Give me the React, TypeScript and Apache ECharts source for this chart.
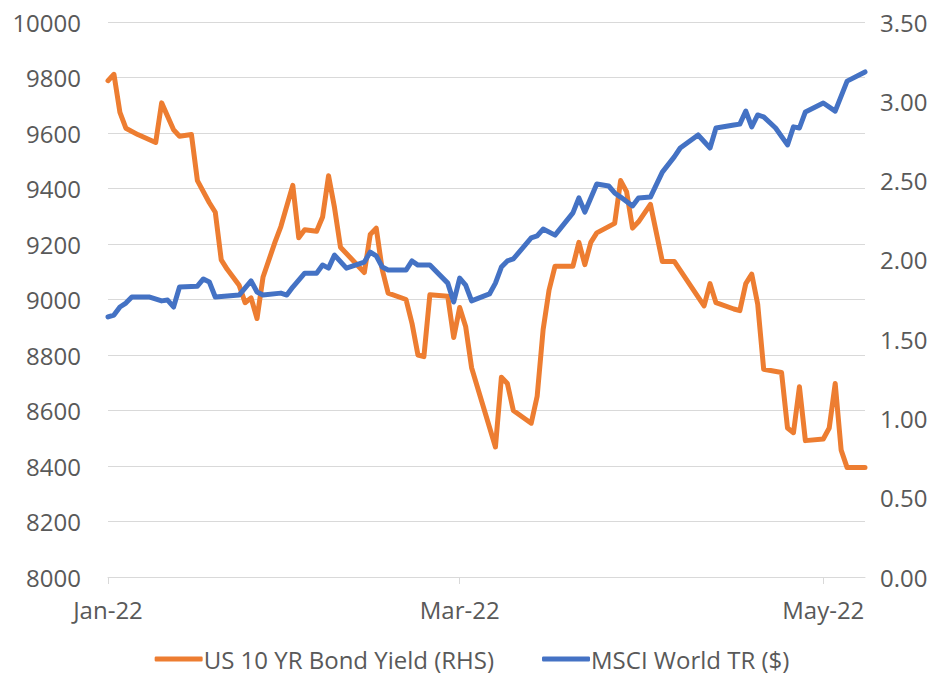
import React, { useEffect, useRef } from "react";
import * as echarts from "echarts";

// Day offsets counted from 3 Jan 2022 (first date on the axis)
const yieldDays = [0,1,2,3,5,8,9,11,12,14,15,17,18,19,20,21,22,23,24,25,26,28,29,31,32,33,35,36,37,38,39,43,44,45,46,47,50,51,52,53,54,57,58,59,60,61,65,66,67,68,71,72,73,74,75,78,79,80,81,82,85,86,87,88,89,91,93,95,100,101,102,105,106,107,108,109,110,113,114,115,116,117,120,121,122,123,124,127];
const yieldValues = [3.13,3.17,2.93,2.83,2.79,2.74,2.99,2.82,2.78,2.79,2.50,2.36,2.30,2.00,1.94,1.89,1.84,1.73,1.76,1.63,1.89,2.11,2.21,2.47,2.14,2.19,2.18,2.27,2.53,2.33,2.08,1.92,2.16,2.20,1.94,1.79,1.75,1.60,1.40,1.39,1.78,1.77,1.51,1.70,1.58,1.32,0.82,1.26,1.22,1.05,0.97,1.14,1.56,1.81,1.96,1.96,2.11,1.97,2.11,2.17,2.23,2.50,2.43,2.20,2.24,2.35,1.99,1.99,1.71,1.85,1.73,1.69,1.68,1.85,1.91,1.72,1.31,1.29,0.94,0.91,1.20,0.86,0.87,0.94,1.22,0.80,0.69,0.69];

const msciDays = [0,1,2,3,4,7,9,10,11,12,15,16,17,18,22,24,25,26,29,30,31,33,35,36,37,38,40,43,44,45,46,47,50,51,52,54,57,58,59,60,61,64,65,66,67,68,71,72,73,75,78,79,80,82,84,85,86,88,89,91,93,95,96,99,101,102,105,106,107,108,109,110,112,114,115,116,117,120,122,124,127];
const msciValues = [8937,8944,8973,8987,9009,9009,8995,8998,8973,9045,9048,9074,9063,9009,9016,9067,9027,9016,9023,9016,9045,9095,9095,9124,9113,9160,9113,9135,9171,9157,9117,9106,9106,9139,9124,9124,9059,8991,9077,9052,8995,9020,9059,9117,9139,9146,9222,9229,9254,9232,9312,9366,9315,9416,9409,9384,9369,9337,9366,9369,9459,9514,9546,9593,9546,9618,9629,9632,9679,9622,9665,9658,9618,9557,9622,9618,9676,9708,9679,9787,9820];

const xTickDays = [0, 59, 120];
const xTickLabels = ["Jan-22", "Mar-22", "May-22"];

const seriesNames = ["US 10 YR Bond Yield (RHS)", "MSCI World TR ($)"];

const FONT = "'Open Sans', 'Noto Sans', sans-serif";
const TEXT = "#595959";

export default function App() {
  const ref = useRef<HTMLDivElement>(null);
  useEffect(() => {
    if (!ref.current) return;
    const chart = echarts.init(ref.current, null, { renderer: "svg" });
    const textStyle = { fontFamily: FONT, fontSize: 24, color: TEXT };
    chart.setOption({
      animation: false,
      backgroundColor: "#ffffff",
      grid: { left: 108, right: 79, top: 22, bottom: 101 },
      legend: {
        data: seriesNames,
        bottom: 2,
        left: "center",
        icon: "roundRect",
        itemWidth: 48,
        itemHeight: 5,
        itemGap: 48,
        textStyle: { ...textStyle, padding: [0, 0, 0, -4] },
      },
      xAxis: {
        type: "value",
        min: 0,
        max: 127,
        splitLine: { show: false },
        axisLine: { show: true, lineStyle: { color: "#d9d9d9", width: 1 } },
        axisTick: {
          show: true,
          customValues: xTickDays,
          length: 7,
          lineStyle: { color: "#d9d9d9" },
        },
        axisLabel: {
          ...textStyle,
          margin: 20,
          customValues: xTickDays,
          formatter: (v: number) => {
            const i = xTickDays.indexOf(Math.round(v));
            return i >= 0 ? xTickLabels[i] : "";
          },
        },
      },
      yAxis: [
        {
          type: "value",
          min: 8000,
          max: 10000,
          interval: 200,
          axisLine: { show: false },
          axisTick: { show: false },
          splitLine: { lineStyle: { color: "#d9d9d9", width: 1 } },
          axisLabel: { ...textStyle, margin: 27, formatter: (v: number) => String(v) },
        },
        {
          type: "value",
          min: 0,
          max: 3.5,
          interval: 0.5,
          position: "right",
          axisLine: { show: false },
          axisTick: { show: false },
          splitLine: { show: false },
          axisLabel: {
            ...textStyle,
            margin: 15,
            formatter: (v: number) => v.toFixed(2),
          },
        },
      ],
      series: [
        {
          name: seriesNames[0],
          type: "line",
          yAxisIndex: 1,
          symbol: "none",
          color: "#ED7D31",
          lineStyle: { width: 5, color: "#ED7D31", join: "round", cap: "round" },
          data: yieldDays.map((d, i) => [d, yieldValues[i]]),
        },
        {
          name: seriesNames[1],
          type: "line",
          yAxisIndex: 0,
          symbol: "none",
          color: "#4472C4",
          lineStyle: { width: 5, color: "#4472C4", join: "round", cap: "round" },
          data: msciDays.map((d, i) => [d, msciValues[i]]),
        },
      ],
    });
    return () => chart.dispose();
  }, []);
  return (
    <div
      ref={ref}
      style={{ position: "fixed", left: 0, top: 0, width: 944, height: 678 }}
    />
  );
}
